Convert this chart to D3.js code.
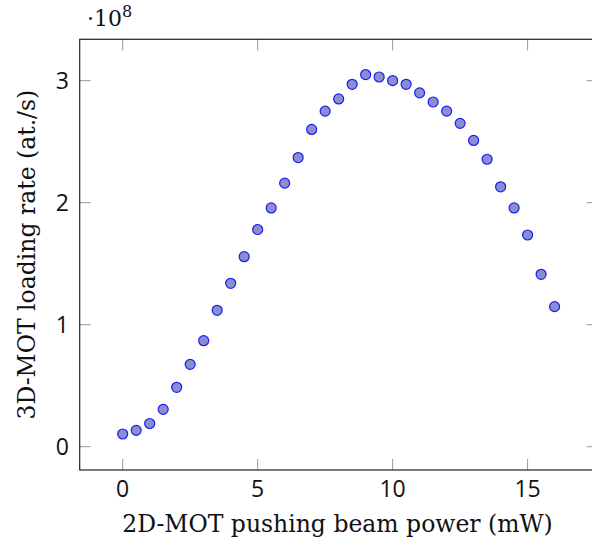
<!DOCTYPE html>
<html lang="en">
    <head>
        <meta charset="utf-8">
        <title>3D-MOT loading rate</title>
        <script type="text/javascript" src="https://cdn.jsdelivr.net/npm/d3@7"></script>
        <style type="text/css">
            body { margin: 0; background: #fff; }
        </style>
    </head>

    <body>
        <script type="text/javascript">
            // Pushing beam power (mW)
            var power = [0, 0.5, 1, 1.5, 2, 2.5, 3, 3.5, 4, 4.5, 5, 5.5, 6, 6.5, 7, 7.5, 8,
                         8.5, 9, 9.5, 10, 10.5, 11, 11.5, 12, 12.5, 13, 13.5, 14, 14.5, 15, 15.5, 16];
            // Loading rate in units of 1e8 at./s
            var rate = [0.104, 0.134, 0.19, 0.306, 0.487, 0.675, 0.869, 1.118, 1.339, 1.557,
                        1.78, 1.957, 2.16, 2.37, 2.60, 2.75, 2.85, 2.97, 3.05, 3.03,
                        3.00, 2.97, 2.90, 2.825, 2.75, 2.65, 2.51, 2.356, 2.13, 1.957,
                        1.735, 1.413, 1.148];
            var xTicks = [0, 5, 10, 15];
            var yTicks = [0, 1, 2, 3];

            var dataset = power.map(function(p, i) { return [p, rate[i]]; });

            var w = 592;
            var h = 543;
            // plot area edges (right edge runs past the window)
            var pLeft = 79.7, pRight = 597.6, pTop = 39.3, pBottom = 470;

            var svg = d3.select("body")
                    .append("svg")
                    .attr("width", w)
                    .attr("height", h)
                    .style("display", "block");

            var xScale = d3.scaleLinear()
                            .domain([-1.593, 17.593])
                            .range([pLeft, pRight]);
            var yScale = d3.scaleLinear()
                            .domain([-0.191, 3.339])
                            .range([pBottom, pTop]);

            var tickLen = 11;
            var sans = "'Open Sans', 'DejaVu Sans', sans-serif";
            var serif = "'DejaVu Serif', 'Liberation Serif', serif";

            // inward ticks on all four sides
            var tickColor = "#999";
            var g = svg.append("g");
            xTicks.forEach(function(t) {
                g.append("line").attr("x1", xScale(t)).attr("x2", xScale(t))
                    .attr("y1", pBottom).attr("y2", pBottom - tickLen)
                    .attr("stroke", tickColor).attr("stroke-width", 1);
                g.append("line").attr("x1", xScale(t)).attr("x2", xScale(t))
                    .attr("y1", pTop).attr("y2", pTop + tickLen)
                    .attr("stroke", tickColor).attr("stroke-width", 1);
            });
            yTicks.forEach(function(t) {
                g.append("line").attr("x1", pLeft).attr("x2", pLeft + tickLen)
                    .attr("y1", yScale(t)).attr("y2", yScale(t))
                    .attr("stroke", tickColor).attr("stroke-width", 1);
                g.append("line").attr("x1", pRight).attr("x2", pRight - tickLen)
                    .attr("y1", yScale(t)).attr("y2", yScale(t))
                    .attr("stroke", tickColor).attr("stroke-width", 1);
            });

            // frame
            svg.append("rect")
                .attr("x", pLeft).attr("y", pTop)
                .attr("width", pRight - pLeft).attr("height", pBottom - pTop)
                .attr("fill", "none")
                .attr("stroke", "#222")
                .attr("stroke-width", 1.2);

            // tick labels
            svg.selectAll("text.xt")
                .data(xTicks)
                .enter()
                .append("text")
                .attr("class", "xt")
                .text(function(d) { return d; })
                .attr("x", function(d) { return xScale(d); })
                .attr("y", 497)
                .attr("text-anchor", "middle")
                .attr("font-family", sans)
                .attr("font-size", "23px")
                .attr("fill", "#111");

            svg.selectAll("text.yt")
                .data(yTicks)
                .enter()
                .append("text")
                .attr("class", "yt")
                .text(function(d) { return d; })
                .attr("x", 69)
                .attr("y", function(d) { return yScale(d) + 8; })
                .attr("text-anchor", "end")
                .attr("font-family", sans)
                .attr("font-size", "23px")
                .attr("fill", "#111");

            // multiplier
            var mult = svg.append("text")
                .attr("x", 87).attr("y", 26)
                .attr("font-family", serif)
                .attr("font-size", "22px")
                .attr("fill", "#111");
            mult.append("tspan").text("\u00b710");
            mult.append("tspan").text("8")
                .attr("font-size", "16px")
                .attr("dy", -9);

            // axis labels
            svg.append("text")
                .text("2D-MOT pushing beam power (mW)")
                .attr("x", 337.5)
                .attr("y", 532)
                .attr("text-anchor", "middle")
                .attr("font-family", serif)
                .attr("font-size", "23.5px")
                .attr("fill", "#111");

            svg.append("text")
                .text("3D-MOT loading rate (at./s)")
                .attr("transform", "translate(35," + ((pTop + pBottom) / 2) + ") rotate(-90)")
                .attr("text-anchor", "middle")
                .attr("font-family", serif)
                .attr("font-size", "23.5px")
                .attr("fill", "#111");

            // data points
            svg.selectAll("circle")
                .data(dataset)
                .enter()
                .append("circle")
                .attr("cx", function(d) { return xScale(d[0]); })
                .attr("cy", function(d) { return yScale(d[1]); })
                .attr("r", 5)
                .attr("fill", "#8a8fcc")
                .attr("stroke", "#1a1aff")
                .attr("stroke-width", 1.2);
        </script>
    </body>
</html>
